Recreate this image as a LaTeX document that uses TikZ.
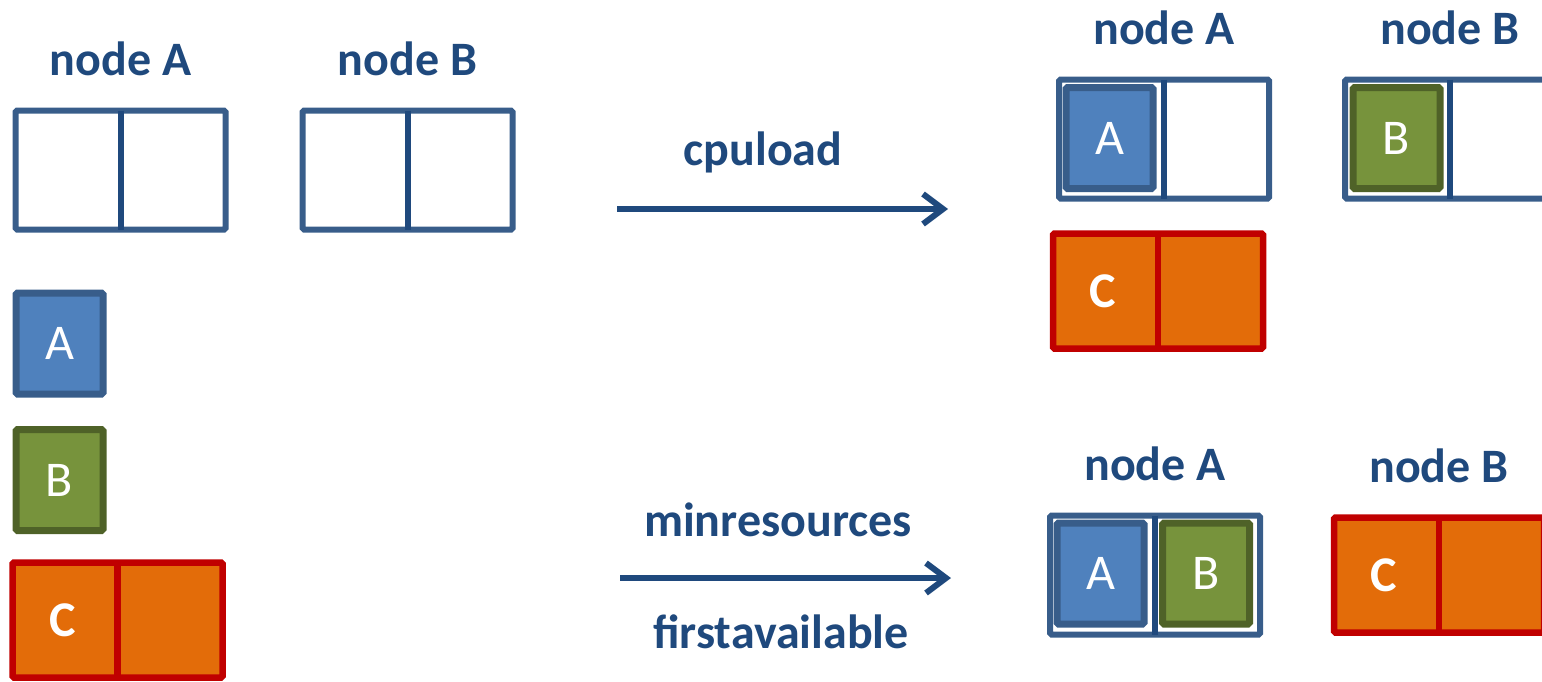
\documentclass[tikz,border=0pt]{standalone}
\usepackage{fontspec}
\setmainfont{Carlito}
\usetikzlibrary{positioning,arrows.meta}

\definecolor{hostline}{HTML}{385D8A}
\definecolor{slotblue}{HTML}{1F497D}
\definecolor{jobAfill}{HTML}{4F81BD}
\definecolor{jobAline}{HTML}{385D8A}
\definecolor{jobBfill}{HTML}{77933C}
\definecolor{jobBline}{HTML}{4F6228}
\definecolor{jobCfill}{HTML}{E36C09}
\definecolor{jobCline}{HTML}{C00000}

\begin{document}
\begin{tikzpicture}[x=1pt,y=-1pt,
    host/.style={draw=hostline, line width=6pt, rounded corners=1.5pt, inner sep=0pt, outer sep=0pt,
                 minimum width=210pt, minimum height=119pt},
    divider/.style={draw=slotblue, line width=6pt},
    hosttitle/.style={text=slotblue, inner sep=0pt, font=\fontsize{48}{56}\selectfont\bfseries},
    joblabel/.style={text=white, inner sep=0pt, font=\fontsize{50}{58}\selectfont},
    jobA/.style={draw=jobAline, fill=jobAfill, line width=7pt, rounded corners=1.5pt, outer sep=0pt,
                 minimum width=87pt, minimum height=101pt, joblabel},
    jobB/.style={jobA, draw=jobBline, fill=jobBfill},
    jobC/.style={draw=jobCline, fill=jobCfill, line width=6.5pt, rounded corners=1.5pt, outer sep=0pt,
                 minimum width=210pt, minimum height=115pt},
    cdivider/.style={draw=jobCline, line width=6.5pt},
    flow/.style={draw=slotblue, line width=6pt, -{Straight Barb[length=20pt,width=30pt]}},
    flowlabel/.style={text=slotblue, inner sep=0pt, font=\fontsize{48}{56}\selectfont\bfseries}]

    \useasboundingbox (0,0) rectangle (1542,681);

    % start: two empty hosts and three jobs
    \node[host] (hA) at (120.5,170) {};
    \node[host] (hB) at (407.5,170) {};
    \draw[divider] (hA.north) -- (hA.south);
    \draw[divider] (hB.north) -- (hB.south);
    \node[hosttitle, above=34pt of hA] (hAt) {node A};
    \node[hosttitle, above=34pt of hB] (hBt) {node B};

    \node[jobA] (jA) at (59.5,343.5) {A};
    \node[jobB] (jB) at (59.5,480) {B};
    \node[jobC] (jC) at (117.5,620) {};
    \draw[cdivider] (jC.north) -- (jC.south);
    \node[joblabel, font=\fontsize{50}{58}\selectfont\bfseries, xshift=-55pt] (jCl) at (jC) {C};

    % arrows
    \coordinate (fa1) at (617,209);
    \coordinate (fa2) at (948,209);
    \coordinate (fb1) at (620,578);
    \coordinate (fb2) at (951,578);
    \draw[flow] (fa1) -- (fa2);
    \draw[flow] (fb1) -- (fb2);
    \node[flowlabel] (fat) at (763,152) {cpuload};
    \node[flowlabel] (fbt) at (778,520) {minresources};
    \node[flowlabel] (fbb) at (781,632) {firstavailable};

    % cpuload result
    \node[host] (cA) at (1164,139) {};
    \node[host] (cB) at (1450,139) {};
    \node[jobA] (cjA) at (1109.5,138) {A};
    \node[jobB] (cjB) at (1396.5,138) {B};
    \draw[divider] (cA.north) -- (cA.south);
    \draw[divider] (cB.north) -- (cB.south);
    \node[hosttitle, above=34pt of cA] (cAt) {node A};
    \node[hosttitle, above=34pt of cB] (cBt) {node B};
    \node[jobC] (cjC) at (1158,291) {};
    \draw[cdivider] (cjC.north) -- (cjC.south);
    \node[joblabel, font=\fontsize{50}{58}\selectfont\bfseries, xshift=-55pt] (cjCl) at (cjC) {C};

    % minresources / firstavailable result
    \node[host] (mA) at (1155,575) {};
    \node[jobA] (mjA) at (1100.5,573.5) {A};
    \node[jobB] (mjB) at (1206,573.5) {B};
    \draw[divider] (mA.north) -- (mA.south);
    \node[hosttitle, above=34pt of mA] (mAt) {node A};
    \node[jobC] (mjC) at (1439,575) {};
    \draw[cdivider] (mjC.north) -- (mjC.south);
    \node[joblabel, font=\fontsize{50}{58}\selectfont\bfseries, xshift=-55pt] (mjCl) at (mjC) {C};
    \node[hosttitle, above=34pt of mjC] (mBt) {node B};
\end{tikzpicture}
\end{document}
